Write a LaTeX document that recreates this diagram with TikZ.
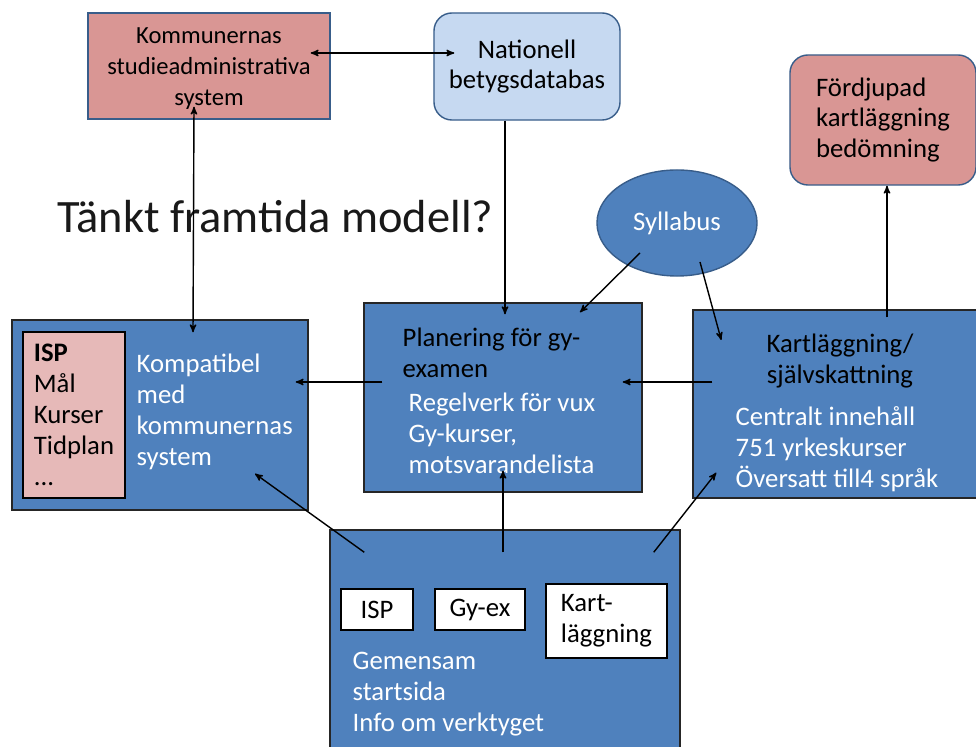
\documentclass[tikz,border=0pt]{standalone}
\usepackage{fontspec}
\setmainfont{Carlito}
\usetikzlibrary{arrows,calc,shapes.geometric}
\definecolor{boxblue}{RGB}{79,129,189}
\definecolor{edgeblue}{RGB}{56,93,138}
\definecolor{boxred}{RGB}{217,150,148}
\definecolor{boxlight}{RGB}{198,217,241}
\definecolor{boxpink}{RGB}{230,185,184}
\tikzset{
  boxnode/.style = {align=left, inner sep=0pt, font=\fontsize{19}{22}\selectfont},
  box_b/.style = {boxnode, rectangle, draw=black!85, fill=boxblue,
    line width=1pt},% blaa ruta
  box_r/.style = {boxnode, rectangle, draw=edgeblue, fill=boxred,
    align=center},% roed ruta
  box_l/.style = {boxnode, rectangle, rounded corners=0.45cm, draw=edgeblue,
    fill=boxlight, align=center},% ljusblaa ruta
  box_w/.style = {boxnode, rectangle, draw=black, fill=white,
    line width=1pt},% vit ruta
  oval_b/.style = {shape=ellipse, draw=edgeblue, fill=boxblue, text=white,
    inner sep=0pt, font=\fontsize{19}{22}\selectfont},% blaa oval
  txt_w/.style = {boxnode, text=white, anchor=west},% vit text
  txt_d/.style = {boxnode, text=black, anchor=west}% moerk text
}

\begin{document}
\begin{tikzpicture}[x=0.025cm,y=-0.025cm,>=stealth',line width=1pt]

	\useasboundingbox (0,0) rectangle (976,747);
	\clip (0,0) rectangle (976,747);

	% oeversta raden
	\node [box_r, minimum width=6.05cm, minimum height=2.65cm] (kommun) at (209,66) {};
	\node [boxnode, align=center, font=\fontsize{17.5}{22}\selectfont] (kommuntext)
		at (209,69) {Kommunernas\\studieadministrativa\\system};
	\node [box_l, minimum width=4.65cm, minimum height=2.675cm] (natdb) at (527,66.5)
		{Nationell\\betygsdatabas};
	\node [box_r, rounded corners=0.45cm, align=left, minimum width=4.65cm,
		minimum height=3.25cm] (fordjup) at (883,120)
		{Fördjupad\\kartläggning\\bedömning};

	\node [anchor=base west, inner sep=0pt, font=\fontsize{33}{38}\selectfont,
		text=black!90] (rubrik) at (57,233) {Tänkt framtida modell?};

	\node [oval_b, minimum width=4cm, minimum height=2.65cm] (syllabus)
		at (677,223) {Syllabus};

	% mellersta raden
	\node [box_b, minimum width=7.4cm, minimum height=4.75cm] (isp) at (160,415) {};
	\node [box_w, fill=boxpink, minimum width=2.55cm, minimum height=4.15cm] (isplista)
		at (74,415) {\textbf{ISP}\\Mål\\Kurser\\Tidplan\\...};
	\node [txt_w] (komptext) at (136,412) {Kompatibel\\med\\kommunernas\\system};

	\node [box_b, minimum width=6.95cm, minimum height=4.725cm] (plan) at (503,397.5) {};
	\node [txt_d] (planrubrik) at (402,353) {Planering för gy-\\examen};
	\node [txt_w] (plantext) at (408,433) {Regelverk för vux\\Gy-kurser,\\motsvarandelista};

	\node [box_b, minimum width=7.5cm, minimum height=4.7cm] (kart) at (843,404) {};
	\node [boxnode, align=center, text=black] (kartrubrik) at (840,361)
		{Kartläggning/\\självskattning};
	\node [txt_w] (karttext) at (735,449)
		{Centralt innehåll\\751 yrkeskurser\\Översatt till4 språk};

	% nedersta rutan
	\node [box_b, minimum width=8.75cm, minimum height=6.25cm] (start) at (505,655) {};
	\node [box_w, minimum width=1.8cm, minimum height=1.025cm] (startisp)
		at (377,609.5) {ISP};
	\node [box_w, minimum width=2.25cm, minimum height=1.025cm] (startgy)
		at (480,609.5) {Gy-ex};
	\node [box_w, minimum width=3.025cm, minimum height=1.85cm] (startkart)
		at (606.5,621) {Kart-\\läggning};
	\node [txt_w] (starttext) at (352,694) {Gemensam\\startsida\\Info om verktyget};

	% pilar
	\draw [<->] ($(kommun.east)+(-20,-13)$) -- ($(natdb.west)+(21,-13.5)$);
	\draw [<->] ($(kommun.south)+(-15,-13)$) -- ($(isp.north)+(33,13)$);
	\draw [->] ($(natdb.south)+(-22,0)$) -- ($(plan.north)+(2,12)$);
	\draw [->] ($(syllabus)+(-37,30)$) -- ($(plan.north)+(77,10)$);
	\draw [->] ($(syllabus)+(23,39)$) -- ($(kart.west)+(29,-64)$);
	\draw [->] ($(kart.west)+(20,-22)$) -- ($(plan.east)+(-20,-15.5)$);
	\draw [->] ($(plan.west)+(19,-15.5)$) -- ($(isp.east)+(-13,-33)$);
	\draw [->] ($(start.north west)+(35,23)$) -- ($(isp.south)+(95,-37)$);
	\draw [->] ($(start.north)+(-2,23)$) -- ($(plan.south)+(0,-22)$);
	\draw [->] ($(start.north east)+(-27,23)$) -- ($(kart.south west)+(24,-26)$);
	\draw [->] ($(kart.north)+(44,8)$) -- ($(fordjup.south)+(4,0)$);

\end{tikzpicture}
\end{document}
